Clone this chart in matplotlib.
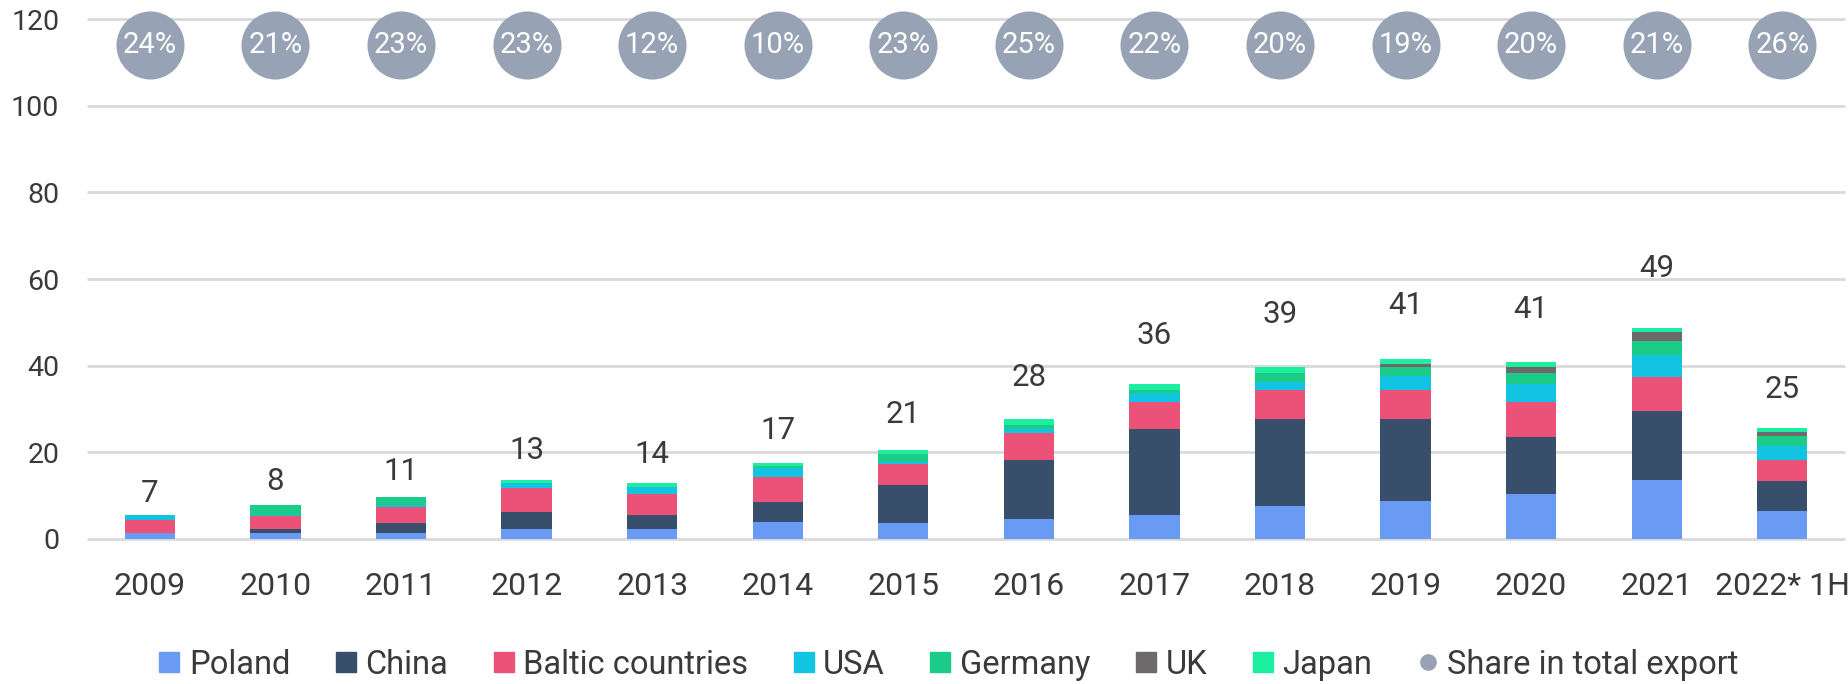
import numpy as np
import matplotlib
matplotlib.use("Agg")
import matplotlib.pyplot as plt
from matplotlib.lines import Line2D

plt.rcParams["font.family"] = ["Roboto", "DejaVu Sans"]

# data
years = ["2009", "2010", "2011", "2012", "2013", "2014", "2015",
         "2016", "2017", "2018", "2019", "2020", "2021", "2022* 1H"]
poland = [1.3, 1.3, 1.3, 2.4, 2.4, 3.9, 3.7, 4.6, 5.6, 7.7, 8.7, 10.4, 13.5, 6.5]
china = [0.0, 0.9, 2.3, 3.9, 3.1, 4.7, 8.8, 13.7, 19.8, 19.9, 18.9, 13.2, 16.0, 6.9]
baltic = [3.0, 3.0, 3.8, 5.4, 4.9, 5.8, 4.9, 6.2, 6.2, 6.7, 6.7, 8.0, 7.9, 4.9]
usa = [1.2, 0.4, 0.4, 1.3, 1.7, 1.9, 0.4, 0.9, 2.0, 2.0, 3.2, 4.1, 5.0, 3.2]
germany = [0.0, 2.2, 1.8, 0.0, 0.0, 0.6, 1.9, 1.0, 0.8, 2.1, 2.3, 2.7, 3.3, 2.2]
uk = [0, 0, 0, 0, 0, 0, 0, 0, 0, 0, 0.6, 1.3, 2.0, 0.9]
japan = [0.0, 0.0, 0.0, 0.6, 0.8, 0.7, 0.9, 1.4, 1.4, 1.4, 1.2, 1.1, 1.0, 0.9]
totals = [7, 8, 11, 13, 14, 17, 21, 28, 36, 39, 41, 41, 49, 25]
share = [24, 21, 23, 23, 12, 10, 23, 25, 22, 20, 19, 20, 21, 26]

series = [("Poland", poland, "#6a9bf4"),
          ("China", china, "#374f6b"),
          ("Baltic countries", baltic, "#ec5277"),
          ("USA", usa, "#12c3e2"),
          ("Germany", germany, "#1dcb88"),
          ("UK", uk, "#6e6a6c"),
          ("Japan", japan, "#1cf0a0")]
text_col = "#3a3a3a"
bubble_col = "#97a3b5"

fig = plt.figure(figsize=(18.48, 6.84), dpi=100)
ax = fig.add_axes([0.0471, 0.212, 0.9513, 0.7602])

x = np.arange(len(years))
bottom = np.zeros(len(years))
for name, vals, col in series:
    ax.bar(x, vals, 0.4, bottom=bottom, color=col, zorder=2)
    bottom += np.array(vals)

# total labels above the bars
for xi, top, t in zip(x, bottom, totals):
    ax.text(xi, top + 4 + 0.2 * top, str(t), ha="center", va="center",
            fontsize=22.5, color=text_col)

# share bubbles along the top
bubble_y = 114
ax.scatter(x, [bubble_y] * len(x), s=2400, color=bubble_col, zorder=3,
           clip_on=False, linewidths=0)
for xi, s in zip(x, share):
    ax.text(xi, bubble_y, f"{s}%", ha="center", va="center", fontsize=21,
            color="white", zorder=4)

ax.set_xlim(-0.5, 13.5)
ax.set_ylim(0, 120)
yt = np.arange(0, 121, 20)
ax.hlines(yt, -0.5, 13.5, colors="#d9d9d9", linewidth=2, zorder=0,
          clip_on=False)
ax.set_yticks(yt)
ax.set_xticks(x)
ax.set_xticklabels(years)
ax.tick_params(axis="y", length=0, pad=20, labelsize=20.5, labelcolor=text_col)
ax.tick_params(axis="x", length=0, pad=24, labelsize=23, labelcolor=text_col)
for sp in ax.spines.values():
    sp.set_visible(False)

handles = [Line2D([], [], marker="s", linestyle="none", markersize=15,
                  color=col, label=name) for name, _, col in series]
handles.append(Line2D([], [], marker="o", linestyle="none", markersize=11,
                      color=bubble_col, label="Share in total export"))
fig.legend(handles=handles, loc="center", bbox_to_anchor=(0.51, 0.028),
           ncol=8, frameon=False, fontsize=23.5, handletextpad=-0.1,
           columnspacing=1.0, handlelength=1.4, labelcolor=text_col)

fig.savefig("out.png", dpi=100)
